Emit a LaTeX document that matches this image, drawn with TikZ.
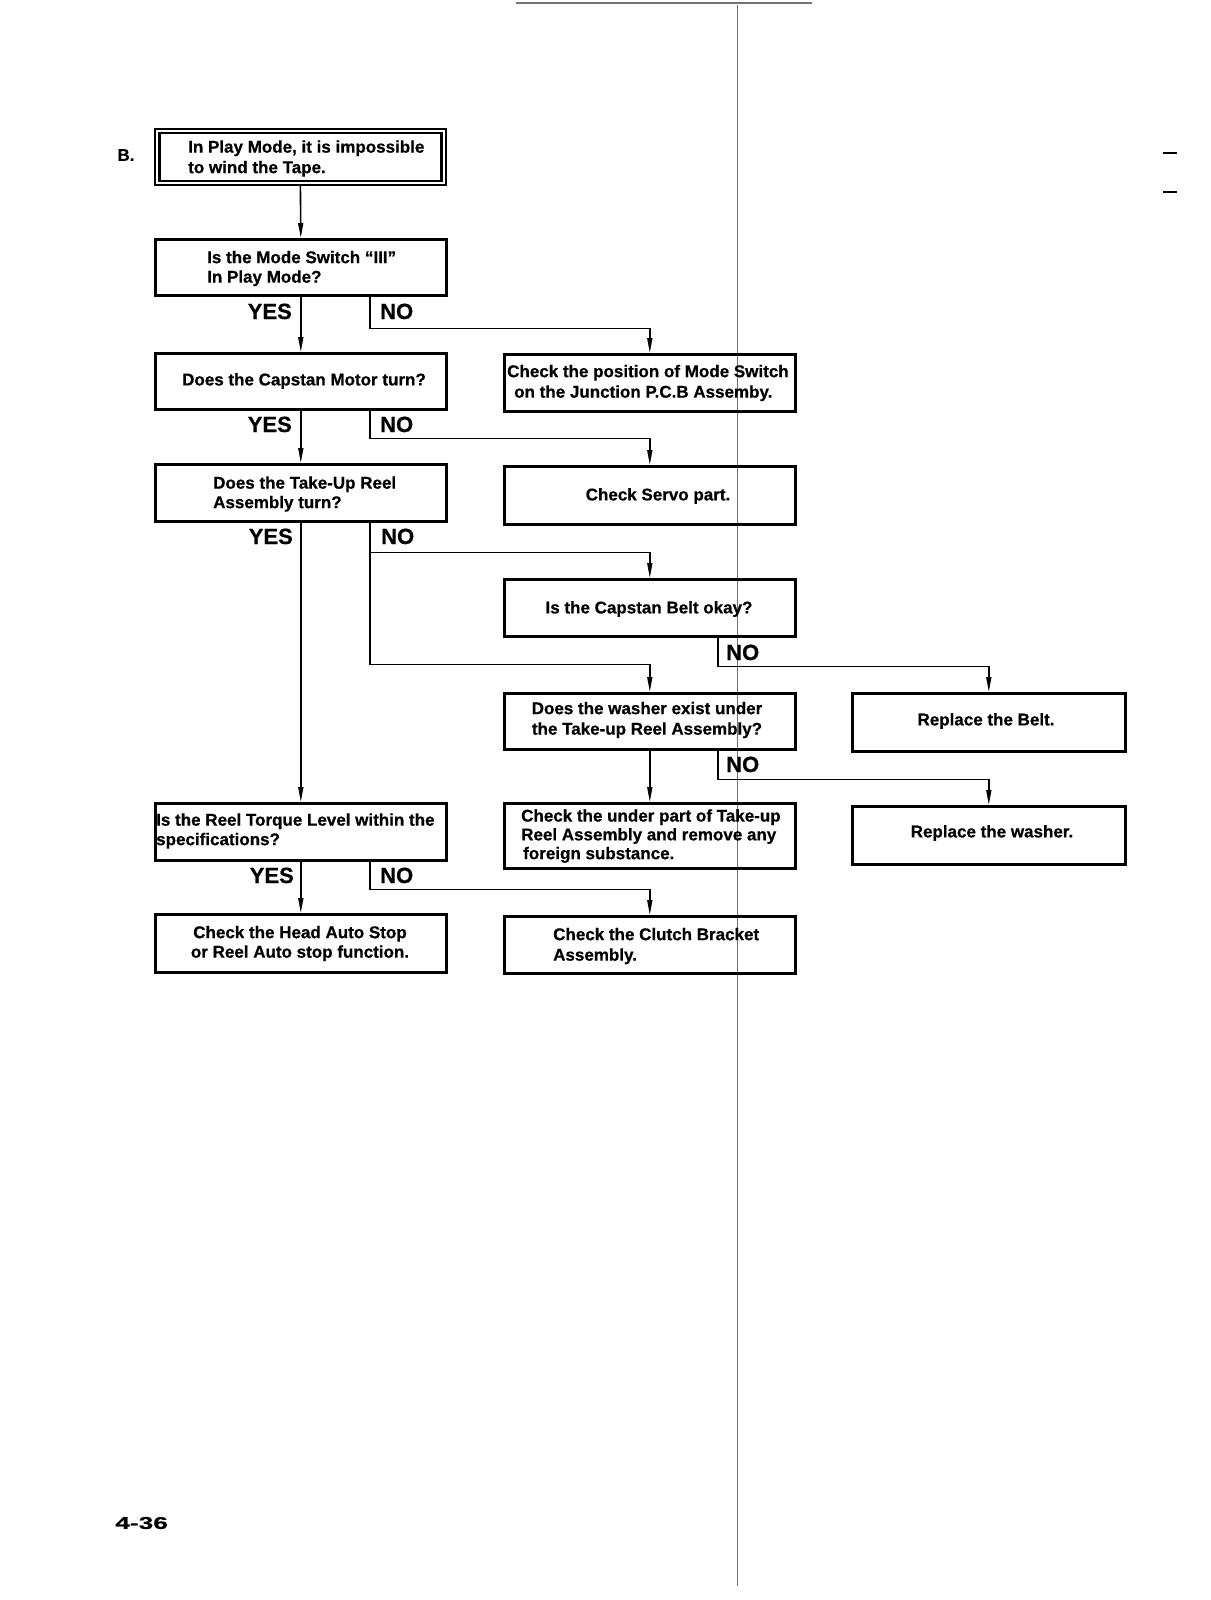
\documentclass[tikz,border=0pt]{standalone}
\usepackage{fontspec}
\setmainfont{Liberation Sans}[BoldFeatures={FakeBold=0.6}]
\usetikzlibrary{arrows.meta}
\begin{document}
\begin{tikzpicture}[x=1pt,y=-1pt,
  box/.style={draw, line width=2.6pt, inner sep=0pt, anchor=north west, minimum width=291pt},
  rbox/.style={box, minimum width=273pt},
  txt/.style={font=\bfseries\fontsize{17}{19.5}\selectfont, inner sep=0pt},
  lbl/.style={font=\bfseries\fontsize{22}{24}\selectfont, inner sep=0pt},
  conn/.style={line width=1.6pt},
  arr/.style={conn, -{Triangle[length=15pt,width=5pt]}},
  scan/.style={draw=black!55, line width=1pt}]
\useasboundingbox (0,0) rectangle (1210,1600);
\fill[white] (0,0) rectangle (1210,1600);

% scan artefacts of the page
\draw[scan] (737,5) -- (737,1586);
\draw[scan, line width=1.4pt] (516,3) -- (812,3);
\draw[line width=1.8pt] (1163,153) -- (1177,153);
\draw[line width=1.8pt] (1163,192) -- (1177,192);

% column coordinates for branch lines
\coordinate (nx) at (370,0);
\coordinate (bx) at (718,0);

% left column
\node[box, line width=1.8pt, minimum height=56pt] (start) at (154,128) {};
\draw[line width=2.4pt] ([shift={(5.5pt,-5pt)}]start.north west) rectangle ([shift={(-5.5pt,5pt)}]start.south east);
\node[txt, anchor=west, align=left, font=\bfseries\fontsize{17}{20.5}\selectfont] (start-t) at (188,158.5) {In Play Mode, it is impossible\\to wind the Tape.};
\node[txt] (b) at (126,155) {B.};

\node[box, minimum height=56pt] (mode) at (154,238) {};
\node[txt, anchor=west, align=left] (mode-t) at (207,268.5) {Is the Mode Switch “III”\\In Play Mode?};

\node[box, minimum height=56pt] (capm) at (154,352) {};
\node[txt] (capm-t) at (304,381) {Does the Capstan Motor turn?};

\node[box, minimum height=57pt] (takeup) at (154,463) {};
\node[txt, anchor=west, align=left] (takeup-t) at (213,494) {Does the Take-Up Reel\\Assembly turn?};

\node[box, minimum height=57pt] (torque) at (154,802) {};
\node[txt, anchor=west, align=left] (torque-t) at (156,831) {Is the Reel Torque Level within the\\specifications?};

\node[box, minimum height=58pt] (head) at (154,913) {};
\node[txt, align=center] (head-t) at (300,943.5) {Check the Head Auto Stop\\or Reel Auto stop function.};

% middle column
\node[box, minimum height=57pt] (chkpos) at (503,353) {};
\node[txt, anchor=west, align=left, font=\bfseries\fontsize{17}{20.5}\selectfont] (chkpos-t) at (507,383) {Check the position of Mode Switch\\\hspace*{7pt}on the Junction P.C.B Assemby.};

\node[box, minimum height=58pt] (servo) at (503,465) {};
\node[txt] (servo-t) at (658,496) {Check Servo part.};

\node[box, minimum height=57pt] (belt) at (503,578) {};
\node[txt] (belt-t) at (649,609) {Is the Capstan Belt okay?};

\node[box, minimum height=56pt] (washer) at (503,692) {};
\node[txt, align=center, font=\bfseries\fontsize{17}{20.5}\selectfont] (washer-t) at (647,720) {Does the washer exist under\\the Take-up Reel Assembly?};

\node[box, minimum height=65pt] (under) at (503,802) {};
\node[txt, anchor=west, align=left, font=\bfseries\fontsize{17}{18.8}\selectfont] (under-t) at (521,836) {Check the under part of Take-up\\Reel Assembly and remove any\\\hspace*{2pt}foreign substance.};

\node[box, minimum height=57pt] (clutch) at (503,915) {};
\node[txt, anchor=west, align=left, font=\bfseries\fontsize{17}{20.5}\selectfont] (clutch-t) at (553,946) {Check the Clutch Bracket\\Assembly.};

% right column
\node[rbox, minimum height=58pt] (rbelt) at (851,692) {};
\node[txt] (rbelt-t) at (986,721) {Replace the Belt.};

\node[rbox, minimum height=58pt] (rwasher) at (851,805) {};
\node[txt] (rwasher-t) at (992,833) {Replace the washer.};

% connectors
\draw[arr] (start.south) -- (mode.north);
\draw[arr] (mode.south) -- (capm.north);
\draw[arr] (capm.south) -- (takeup.north);
\draw[arr] (takeup.south) -- (torque.north);
\draw[arr] (torque.south) -- (head.north);
\draw[arr] (washer.south) -- (under.north);

\draw[arr] (mode.south -| nx) -- ++(0,32) -| (chkpos.north);
\draw[arr] (capm.south -| nx) -- ++(0,28) -| (servo.north);
\draw[arr] (takeup.south -| nx) -- ++(0,30) -| (belt.north);
\draw[arr] (takeup.south -| nx) -- ++(0,142) -| (washer.north);
\draw[arr] (belt.south -| bx) -- ++(0,29) -| (rbelt.north);
\draw[arr] (washer.south -| bx) -- ++(0,29) -| (rwasher.north);
\draw[arr] (torque.south -| nx) -- ++(0,28) -| (clutch.north);

% YES / NO labels
\node[lbl, anchor=base east] (y1) at (292,319) {YES};
\node[lbl, anchor=base west] (n1) at (380,319) {NO};
\node[lbl, anchor=base east] (y2) at (292,432) {YES};
\node[lbl, anchor=base west] (n2) at (380,432) {NO};
\node[lbl, anchor=base east] (y3) at (293,544) {YES};
\node[lbl, anchor=base west] (n3) at (381,544) {NO};
\node[lbl, anchor=base west] (n4) at (726,660) {NO};
\node[lbl, anchor=base west] (n5) at (726,772) {NO};
\node[lbl, anchor=base east] (y6) at (294,883) {YES};
\node[lbl, anchor=base west] (n6) at (380,883) {NO};

% page number
\node[txt, anchor=west] (page) at (115,1523) {\scalebox{1.55}[1]{4-36}};
\end{tikzpicture}
\end{document}
